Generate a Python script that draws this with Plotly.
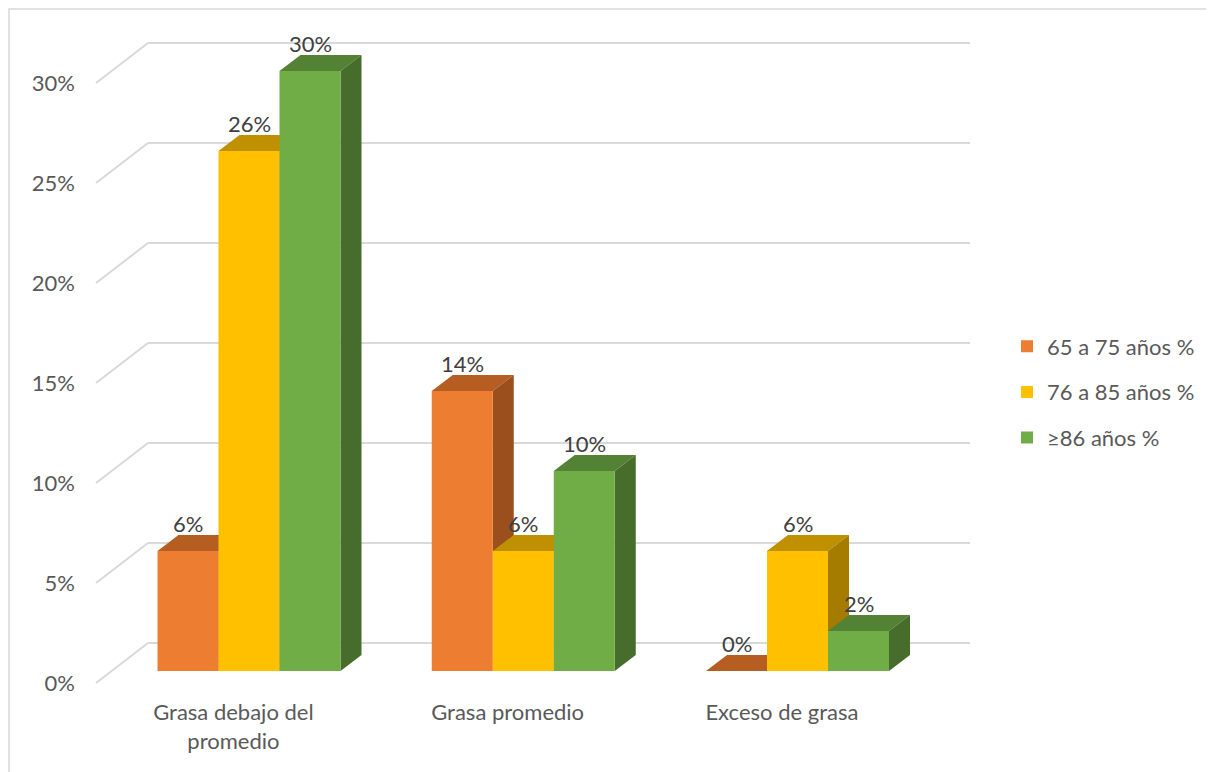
import plotly.graph_objects as go

# ---------------- data ----------------
categories = ["Grasa debajo del<br>promedio", "Grasa promedio", "Exceso de grasa"]
series_names = ["65 a 75 años %", "76 a 85 años %", "≥86 años %"]
values_65_75 = [6, 14, 0]
values_76_85 = [26, 6, 6]
values_86 = [30, 10, 2]
y_ticks = [0, 5, 10, 15, 20, 25, 30]

series_values = [values_65_75, values_76_85, values_86]
front_colors = ["#ED7D31", "#FFC000", "#70AD47"]
top_colors = ["#B65E22", "#BF9000", "#548235"]
side_colors = ["#9A4F1C", "#A67C00", "#476D2C"]

# ---------------- layout geometry (page body has an 8px margin) ----------------
OFF = 8
W, H = 1214, 772
L, R, T, B = 80 - OFF, 975 - OFF, 20 - OFF, 690 - OFF
PX_PER_CAT = 274.25
PX_PER_UNIT = 20.0
CAT0_PX = 249 - OFF
ZERO_PX = 671 - OFF
x_range = [(L - CAT0_PX) / PX_PER_CAT, (R - CAT0_PX) / PX_PER_CAT]
y_range = [(ZERO_PX - B) / PX_PER_UNIT, (ZERO_PX - T) / PX_PER_UNIT]

bar_w = 61 / PX_PER_CAT
depth_dx = 21 / PX_PER_CAT
depth_dy = 16 / PX_PER_UNIT
front_dx, front_dy = -15.6 / PX_PER_CAT, -12 / PX_PER_UNIT
back_dx, back_dy = 36.4 / PX_PER_CAT, 28 / PX_PER_UNIT
wall_left = (148 - OFF - CAT0_PX) / PX_PER_CAT
wall_right = (970 - OFF - CAT0_PX) / PX_PER_CAT
wall_dx = back_dx - front_dx
wall_dy = back_dy - front_dy

FONT = "Lato, 'Open Sans', sans-serif"
FS = 22

fig = go.Figure()
x_idx = list(range(len(categories)))
for s, name in enumerate(series_names):
    fig.add_trace(go.Bar(
        x=x_idx, y=series_values[s], name=name, legendgroup=name,
        marker=dict(color=front_colors[s], line=dict(width=0)),
        hoverinfo="skip",
    ))

shapes = []
# gridlines: back wall + diagonal on the side wall
for v in y_ticks:
    shapes.append(dict(type="line", xref="x", yref="y", layer="below",
                       x0=wall_left, x1=wall_right, y0=v + back_dy, y1=v + back_dy,
                       line=dict(color="#D9D9D9", width=2)))
    shapes.append(dict(type="line", xref="x", yref="y", layer="below",
                       x0=wall_left - wall_dx, x1=wall_left,
                       y0=v + front_dy, y1=v + back_dy,
                       line=dict(color="#D9D9D9", width=2)))

annotations = []
for i in x_idx:
    for s in range(len(series_names)):
        v = series_values[s][i]
        xl = i + (s - 1) * bar_w - bar_w / 2
        xr = xl + bar_w
        top = (f"M{xl},{v} L{xr},{v} L{xr + depth_dx},{v + depth_dy} "
               f"L{xl + depth_dx},{v + depth_dy} Z")
        shapes.append(dict(type="path", xref="x", yref="y", layer="below", path=top,
                           fillcolor=top_colors[s], line=dict(width=0)))
        if v > 0:
            side = (f"M{xr},0 L{xr},{v} L{xr + depth_dx},{v + depth_dy} "
                    f"L{xr + depth_dx},{depth_dy} Z")
            shapes.append(dict(type="path", xref="x", yref="y", layer="below", path=side,
                               fillcolor=side_colors[s], line=dict(width=0)))
        annotations.append(dict(x=(xl + xr) / 2, y=v + depth_dy, xref="x", yref="y",
                                text=f"{v}%", showarrow=False, yanchor="middle",
                                yshift=12, font=dict(family=FONT, size=FS, color="#404040")))

# chart border
pw, ph = R - L, B - T
shapes.append(dict(type="rect", xref="paper", yref="paper", layer="below",
                   x0=(1 - L) / pw, x1=(1211 - OFF - L) / pw,
                   y0=(B - 800) / ph, y1=(B - 1) / ph,
                   line=dict(color="#D9D9D9", width=1.5), fillcolor="rgba(0,0,0,0)"))

fig.update_layout(
    width=W, height=H,
    margin=dict(l=L, r=W - R, t=T, b=H - B),
    paper_bgcolor="white", plot_bgcolor="white",
    barmode="group", bargap=1 - 3 * bar_w, bargroupgap=0,
    font=dict(family=FONT, size=FS, color="#595959"),
    shapes=shapes, annotations=annotations,
    showlegend=True,
    legend=dict(xref="container", yref="container", x=(1007 - OFF) / W, y=1 - (392 - OFF) / H,
                xanchor="left", yanchor="middle", traceorder="grouped",
                tracegroupgap=14, font=dict(family=FONT, size=FS, color="#595959"),
                bgcolor="rgba(0,0,0,0)"),
    xaxis=dict(range=x_range, tickmode="array", tickvals=[i + front_dx for i in x_idx],
               ticktext=categories, showgrid=False, zeroline=False, showline=False,
               ticks="", ticklabelstandoff=7, fixedrange=True),
    yaxis=dict(range=y_range, tickmode="array", tickvals=[v + front_dy for v in y_ticks],
               ticktext=[f"{v}%" for v in y_ticks], showgrid=False, zeroline=False,
               showline=False, ticks="", ticklabelstandoff=4, fixedrange=True),
)

fig.write_html("out.html")
